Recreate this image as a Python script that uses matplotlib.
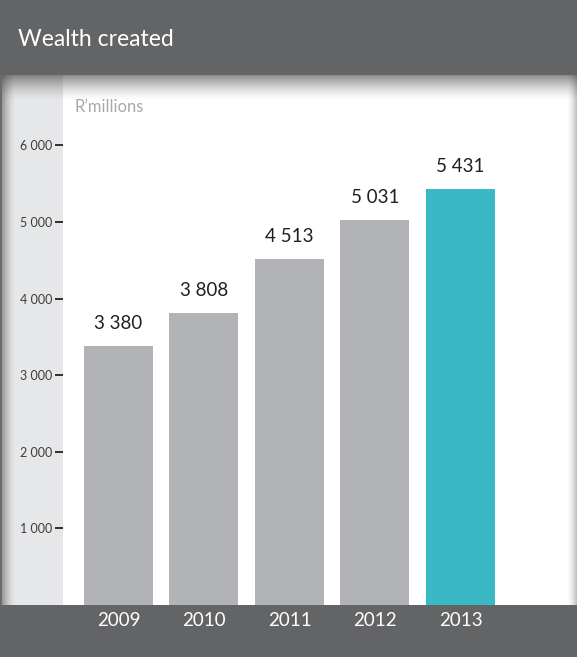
import matplotlib.pyplot as plt
import numpy as np
from matplotlib.patches import Rectangle

W, H = 577, 657

years = ["2009", "2010", "2011", "2012", "2013"]
wealth = [3380, 3808, 4513, 5031, 5431]
yticks = [1000, 2000, 3000, 4000, 5000, 6000]

HEADER = "#636466"
PANEL = "#e6e7e8"
BAR_GREY = "#b1b3b6"
TEAL = "#3ab8c6"

plt.rcParams["font.family"] = ["Lato", "DejaVu Sans"]


def fmt(v):
    return f"{v:,}".replace(",", " ")


fig = plt.figure(figsize=(W / 100, H / 100), dpi=100)

# background layer in pixel coordinates
bg = fig.add_axes([0, 0, 1, 1], zorder=0)
bg.set_xlim(0, W)
bg.set_ylim(H, 0)
bg.axis("off")
bg.add_patch(Rectangle((0, 75), 63, 530, color=PANEL, lw=0))
bg.add_patch(Rectangle((0, 0), W, 75, color=HEADER, lw=0))
bg.add_patch(Rectangle((0, 605), W, 52, color=HEADER, lw=0))


def shade(extent, n, axis, strength):
    # soft shadow strip, fading away from the edge
    ramp = np.linspace(1, 0, n) ** 1.6 * strength
    img = np.zeros((n, 1, 4)) if axis == 0 else np.zeros((1, n, 4))
    img[..., :3] = 0.25
    img[..., 3] = ramp.reshape(img.shape[:2])
    bg.imshow(img, extent=extent, aspect="auto", interpolation="bilinear", zorder=2)


shade((0, W, 102, 75), 40, 0, 0.6)           # under the header
shade((0, 16, 605, 75), 40, 1, 0.6)          # left edge
shade((W, W - 10, 605, 75), 40, 1, 0.35)     # right edge
bg.add_patch(Rectangle((0, 75), 2, 530, color="#6b6c6e", lw=0, zorder=3))

bg.text(18, 40, "Wealth created", color="white", fontsize=16.5,
        va="center", ha="left")
bg.text(75, 107, "R\u2019millions", color="#a7a9ac", fontsize=12,
        va="center", ha="left")

# bar chart
ax = fig.add_axes([63 / W, (H - 605) / H, (W - 63) / W, 530 / H], zorder=1)
ax.patch.set_alpha(0)
x = np.arange(len(years))
colors = [BAR_GREY] * (len(years) - 1) + [TEAL]
bars = ax.bar(x, wealth, width=0.807, color=colors, lw=0)

for rect, v in zip(bars, wealth):
    ax.annotate(fmt(v), xy=(rect.get_x() + rect.get_width() / 2, v),
                xytext=(0, 10), textcoords="offset points",
                ha="center", va="bottom", fontsize=13.5, color="#231f20")

ax.set_xlim(-0.649, -0.649 + 514 / 85.5)
ax.set_ylim(0, 530 / 76.6 * 1000)
ax.set_xticks(x, years)
ax.set_yticks(yticks, [fmt(t) for t in yticks])
ax.tick_params(axis="x", length=0, pad=5, labelsize=13.5, labelcolor="white")
ax.tick_params(axis="y", length=6, width=1.3, color="#231f20", pad=1.5,
               labelsize=9, labelcolor="#3d3d3d")
for s in ax.spines.values():
    s.set_visible(False)

fig.savefig("out.png", dpi=100)
